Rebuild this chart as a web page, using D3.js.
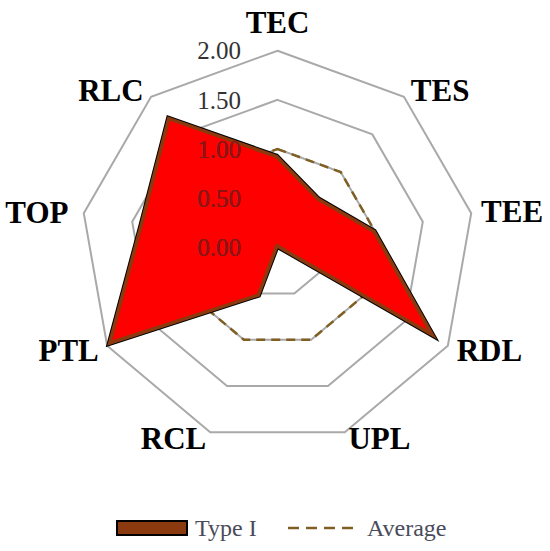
<!DOCTYPE html>
<html>
<head>
<meta charset="utf-8">
<script src="https://cdn.jsdelivr.net/npm/d3@7"></script>
<style>
  html, body { margin: 0; padding: 0; background: #ffffff; }
  svg { display: block; }
</style>
</head>
<body>
<svg id="chart" width="550" height="551"></svg>
<script>
// ---- data ----
const categories = ["TEC", "TES", "TEE", "RDL", "UPL", "RCL", "PTL", "TOP", "RLC"];
const typeIValues = [0.94, 0.66, 1.01, 1.87, 0.01, 0.53, 2.00, 1.42, 1.74];
const averageValues = [1.00, 1.00, 1.00, 1.00, 1.00, 1.00, 1.00, 1.00, 1.00];
const tickValues = [0, 0.5, 1.0, 1.5, 2.0];
const seriesNames = ["Type I", "Average"];

// ---- layout ----
const cx = 277.5, cy = 247.4, R = 196.7;
const serif = "'Liberation Serif', 'Times New Roman', Times, serif";
// label fine placement (px) relative to radial anchor
const labelNudge = {
  TEC: [0, 0], TES: [18, 15], TEE: [13, 3], RDL: [17, -10], UPL: [25, -21],
  RCL: [-27, -21], PTL: [-14, -10], TOP: [-19, 4], RLC: [-22, 15]
};

const svg = d3.select("#chart");
const r = d3.scaleLinear().domain([0, 2]).range([0, R]);
const step = 2 * Math.PI / categories.length;
const ang = (c) => categories.indexOf(c) * step;

const radial = d3.lineRadial()
  .angle((d, i) => i * step)
  .radius(d => r(d))
  .curve(d3.curveLinearClosed);

const g = svg.append("g").attr("transform", `translate(${cx},${cy})`);

// grid rings
g.selectAll("path.ring")
  .data(tickValues.filter(t => t > 0))
  .join("path")
  .attr("class", "ring")
  .attr("d", t => radial(categories.map(() => t)))
  .attr("fill", "none")
  .attr("stroke", "#a9a9a9")
  .attr("stroke-width", 2);

const tickFmt = d3.format(".2f");
function drawTicks(sel, color) {
  sel.selectAll("text")
    .data(tickValues)
    .join("text")
    .attr("x", -36.5)
    .attr("y", t => -r(t))
    .attr("dy", "0.35em")
    .attr("text-anchor", "end")
    .attr("font-family", serif)
    .attr("font-size", 25)
    .attr("fill", color)
    .text(t => tickFmt(t));
}

// average (dashed)
g.append("path")
  .attr("d", radial(averageValues))
  .attr("fill", "none")
  .attr("stroke", "#7f5f22")
  .attr("stroke-width", 2.5)
  .attr("stroke-dasharray", "9,6");

// Type I area
const typePath = radial(typeIValues);
svg.append("defs").append("clipPath").attr("id", "typeClip")
  .append("path").attr("d", typePath).attr("transform", `translate(${cx},${cy})`);

g.append("path")
  .attr("d", typePath)
  .attr("fill", "#ff0000")
  .attr("stroke", "none");

// inner brown band + black outline
svg.append("g").attr("clip-path", "url(#typeClip)")
  .append("path")
  .attr("transform", `translate(${cx},${cy})`)
  .attr("d", typePath)
  .attr("fill", "none")
  .attr("stroke", "#8b3a10")
  .attr("stroke-width", 7);

g.append("path")
  .attr("d", typePath)
  .attr("fill", "none")
  .attr("stroke", "#000000")
  .attr("stroke-width", 2)
  .attr("stroke-linejoin", "miter");

// tick labels: gray outside, dark red inside area
drawTicks(g.append("g"), "#333333");
const inside = svg.append("g").attr("clip-path", "url(#typeClip)")
  .append("g").attr("transform", `translate(${cx},${cy})`);
drawTicks(inside, "#8e1212");

// category labels
svg.append("g").selectAll("text")
  .data(categories)
  .join("text")
  .attr("x", c => cx + (R + 28.3) * Math.sin(ang(c)) + labelNudge[c][0])
  .attr("y", c => cy - (R + 28.3) * Math.cos(ang(c)) + labelNudge[c][1])
  .attr("dy", "0.35em")
  .attr("text-anchor", "middle")
  .attr("font-family", serif)
  .attr("font-weight", "bold")
  .attr("font-size", 31)
  .attr("fill", "#000000")
  .text(c => c);

// legend
const leg = svg.append("g");
leg.append("rect")
  .attr("x", 117).attr("y", 521).attr("width", 70).attr("height", 14)
  .attr("fill", "#8b3a10").attr("stroke", "#000000").attr("stroke-width", 2);
leg.append("text")
  .attr("x", 195).attr("y", 528).attr("dy", "0.35em")
  .attr("font-family", serif).attr("font-size", 24).attr("fill", "#4a4b5a")
  .text(seriesNames[0]);
leg.append("line")
  .attr("x1", 288).attr("x2", 354).attr("y1", 528).attr("y2", 528)
  .attr("stroke", "#7f5f22").attr("stroke-width", 2.5).attr("stroke-dasharray", "11,7");
leg.append("text")
  .attr("x", 367).attr("y", 528).attr("dy", "0.35em")
  .attr("font-family", serif).attr("font-size", 24).attr("fill", "#4a4b5a")
  .text(seriesNames[1]);
</script>
</body>
</html>
